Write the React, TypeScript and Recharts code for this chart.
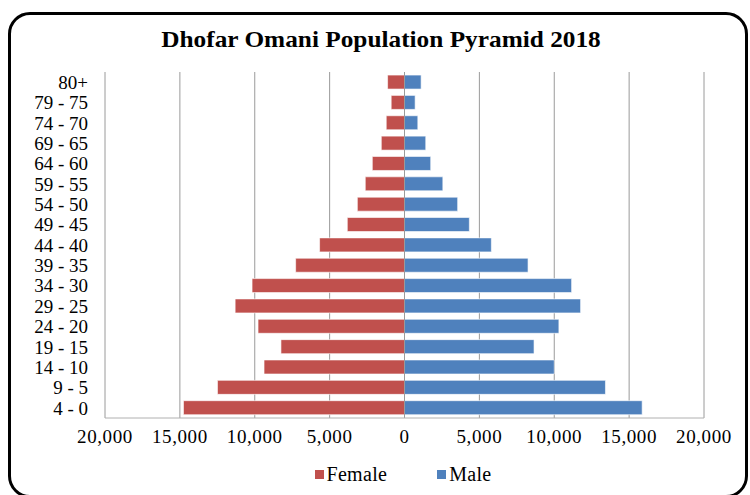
import React from "react";
import {
  BarChart,
  Bar,
  XAxis,
  YAxis,
  CartesianGrid,
  Legend,
  ReferenceLine,
} from "recharts";

// age groups, top of the pyramid first
const AGE_GROUPS = [
  "80+",
  "79 - 75",
  "74 - 70",
  "69 - 65",
  "64 - 60",
  "59 - 55",
  "54 - 50",
  "49 - 45",
  "44 - 40",
  "39 - 35",
  "34 - 30",
  "29 - 25",
  "24 - 20",
  "19 - 15",
  "14 - 10",
  "9 - 5",
  "4 - 0",
];

const FEMALE = [
  1130, 890, 1220, 1550, 2150, 2620, 3150, 3820, 5670, 7270, 10180, 11310,
  9780, 8250, 9380, 12490, 14760,
];

const MALE = [
  1110, 710, 890, 1420, 1750, 2560, 3550, 4330, 5800, 8250, 11160, 11760,
  10310, 8650, 10000, 13420, 15870,
];

const X_TICKS = [-20000, -15000, -10000, -5000, 0, 5000, 10000, 15000, 20000];

const FEMALE_COLOR = "#C0504D";
const MALE_COLOR = "#4F81BD";
const FONT = '"Liberation Serif", "Times New Roman", serif';

const data = AGE_GROUPS.map((age, i) => ({
  age,
  Female: -FEMALE[i],
  Male: MALE[i],
}));

const fmt = (v: number) => Math.abs(v).toLocaleString("en-US");

function LegendBox({ payload }: any) {
  return (
    <div
      style={{
        display: "flex",
        justifyContent: "center",
        gap: 50,
        paddingLeft: 92,
      }}
    >
      {(payload || []).map((p: any) => (
        <div key={p.value} style={{ display: "flex", alignItems: "center" }}>
          <span
            style={{
              display: "inline-block",
              width: 9,
              height: 9,
              background: p.color,
              marginRight: 3,
            }}
          />
          <span
            style={{
              fontFamily: FONT,
              fontSize: 20,
              color: "#000",
              letterSpacing: 0.3,
            }}
          >
            {p.value}
          </span>
        </div>
      ))}
    </div>
  );
}

export default function App() {
  return (
    <div
      style={{
        position: "absolute",
        top: 0,
        left: 0,
        width: 750,
        height: 495,
        overflow: "hidden",
        background: "#fff",
      }}
    >
      <div
        style={{
          position: "absolute",
          left: 8,
          top: 12,
          width: 734,
          height: 480,
          border: "3px solid #000",
          borderRadius: 22,
        }}
      />
      <div
        style={{
          position: "absolute",
          top: 27,
          left: 0,
          width: 762,
          textAlign: "center",
          fontFamily: FONT,
          fontWeight: "bold",
          fontSize: 23,
          color: "#000",
          transform: "scaleX(1.1)",
        }}
      >
        Dhofar Omani Population Pyramid 2018
      </div>
      <div style={{ position: "absolute", top: 0, left: 0 }}>
        <BarChart
          width={750}
          height={495}
          data={data}
          layout="vertical"
          stackOffset="sign"
          barCategoryGap="15%"
          margin={{ top: 72, right: 46, bottom: 22, left: 10 }}
        >
          <CartesianGrid horizontal={false} stroke="#9a9a9a" />
          <XAxis
            type="number"
            domain={[-20000, 20000]}
            ticks={X_TICKS}
            tickFormatter={fmt}
            axisLine={{ stroke: "#b0b0b0" }}
            tickLine={false}
            tickSize={0}
            tickMargin={12}
            height={32}
            tick={{
              fontFamily: FONT,
              fontSize: 19,
              fill: "#000",
              letterSpacing: 0.6,
            }}
          />
          <YAxis
            type="category"
            dataKey="age"
            width={95}
            axisLine={false}
            tickLine={false}
            tickSize={0}
            tickMargin={17}
            interval={0}
            tick={{ fontFamily: FONT, fontSize: 19, fill: "#000" }}
          />
          <Legend
            verticalAlign="bottom"
            content={<LegendBox />}
            wrapperStyle={{ bottom: 9 }}
          />
          <Bar
            dataKey="Female"
            stackId="pop"
            fill={FEMALE_COLOR}
            stroke="rgba(255,255,255,0.6)"
            strokeWidth={1}
            isAnimationActive={false}
          />
          <Bar
            dataKey="Male"
            stackId="pop"
            fill={MALE_COLOR}
            stroke="rgba(255,255,255,0.6)"
            strokeWidth={1}
            isAnimationActive={false}
          />
          <ReferenceLine x={0} stroke="#9a9a9a" strokeWidth={1} />
        </BarChart>
      </div>
    </div>
  );
}
